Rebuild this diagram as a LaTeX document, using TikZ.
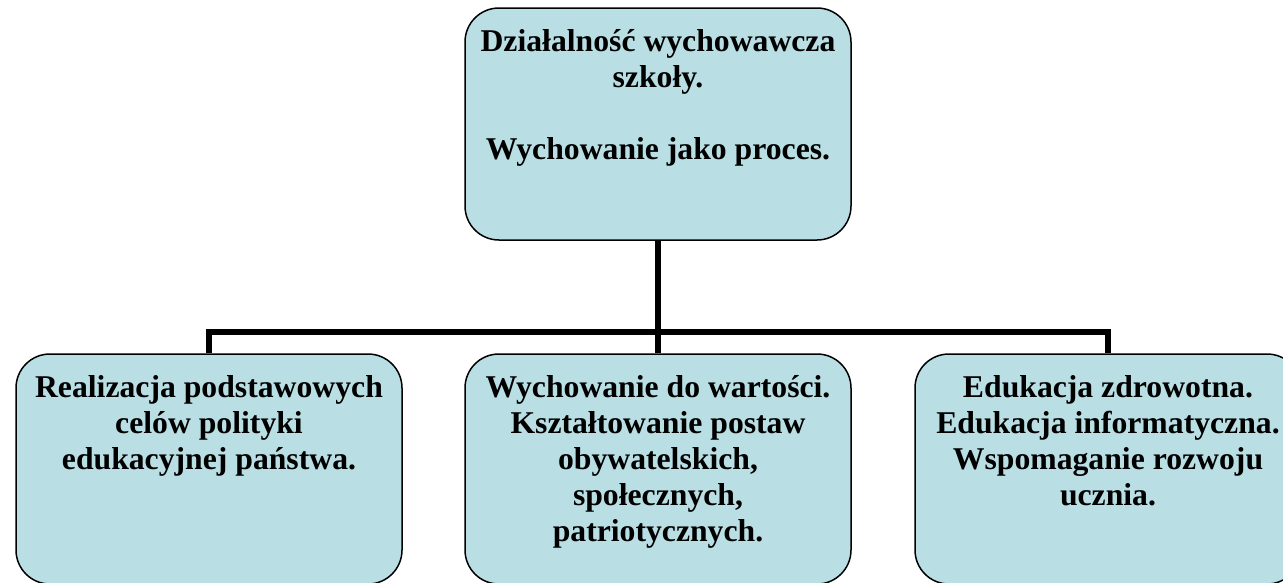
\documentclass[tikz,border=0pt]{standalone}
\usepackage{fontspec}
\setmainfont{Liberation Serif}
\usepackage{tikz}
\usepackage{xcolor}
\definecolor{boxblue}{RGB}{185,223,228}
\tikzset{
    rounded-box/.style = {draw=black, fill=boxblue, line width=1.5pt, rectangle, rounded corners=34pt, inner sep=0pt, minimum width=386pt},
    tree-line/.style = {draw=black, line width=5.5pt},
}
\newcommand{\boxtext}[2]{\parbox[c][#1][t]{380pt}{\centering\fontsize{31.7}{36}\selectfont\bfseries\vspace*{18pt}\strut #2}}

\begin{document}
\begin{tikzpicture}[x=1pt,y=-1pt]
\useasboundingbox (0,0) rectangle (1283,582);
\node [rounded-box] (school) at (658,124) {\boxtext{232pt}{Działalność wychowawcza\\ szkoły.\\[36pt] Wychowanie jako proces.}};
\node [rounded-box] (policy) at (209,469) {\boxtext{230pt}{Realizacja podstawowych\\ celów polityki\\ edukacyjnej państwa.}};
\node [rounded-box] (values) at (658,469) {\boxtext{230pt}{Wychowanie do wartości.\\ Kształtowanie postaw\\ obywatelskich,\\ społecznych,\\ patriotycznych.}};
\node [rounded-box] (health) at (1108,469) {\boxtext{230pt}{Edukacja zdrowotna.\\ Edukacja informatyczna.\\ Wspomaganie rozwoju\\ ucznia.}};
\coordinate (bar) at (658,332);
\draw [tree-line] (school.south) -- (values.north);
\draw [tree-line] (policy.north) -- (policy.north |- bar) -- (health.north |- bar) -- (health.north);
\end{tikzpicture}
\end{document}
